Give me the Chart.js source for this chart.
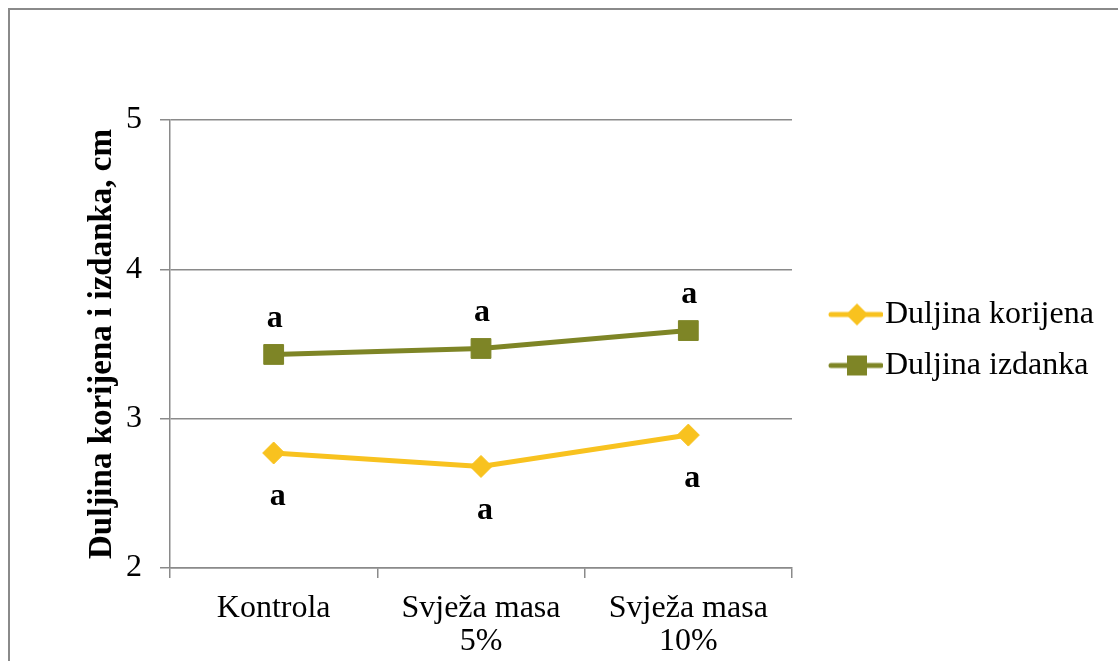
<!DOCTYPE html>
<html>
<head>
<meta charset="utf-8">
<script src="https://cdn.jsdelivr.net/npm/chart.js@4.4.0/dist/chart.umd.min.js"></script>
<style>
    html, body { margin: 0; padding: 0; background: #fff; overflow: hidden; }
    #frame { position: absolute; left: 8px; top: 8px; width: 1200px; height: 800px; border: 2px solid #8a8a8a; }
    #wrap { position: absolute; left: 0; top: 0; width: 1118px; height: 661px; }
</style>
</head>
<body>
<div id="frame"></div>
<div id="wrap"><canvas id="lengthChart"></canvas></div>
<script>
// Chart data
const categories = ['Kontrola', ['Svježa masa', '5%'], ['Svježa masa', '10%']];
const seriesNames = ['Duljina korijena', 'Duljina izdanka'];
const rootLength = [2.77, 2.68, 2.89];   // Duljina korijena
const shootLength = [3.43, 3.47, 3.59];  // Duljina izdanka
const rootLetters = ['a', 'a', 'a'];
const shootLetters = ['a', 'a', 'a'];
const yMin = 2;
const yMax = 5;
const yStep = 1;

const yellow = '#F8C21F';
const olive = '#7E8526';
const axisGray = '#8a8a8a';
const FONT = '"Liberation Serif", "Times New Roman", serif';
const fontSize = 32;

// legend icon: line with marker in the middle
function legendIcon(color, shape) {
    const c = document.createElement('canvas');
    c.width = 86;
    c.height = 30;
    const g = c.getContext('2d');
    g.strokeStyle = color;
    g.fillStyle = color;
    g.lineWidth = 5;
    g.lineCap = 'round';
    g.beginPath();
    g.moveTo(34, 15);
    g.lineTo(84, 15);
    g.stroke();
    g.beginPath();
    if (shape === 'diamond') {
        g.moveTo(49, 15); g.lineTo(60, 4); g.lineTo(71, 15); g.lineTo(60, 26);
    } else {
        g.rect(50, 5, 20, 20);
    }
    g.closePath();
    g.fill();
    return c;
}
const legendIcons = [legendIcon(yellow, 'diamond'), legendIcon(olive, 'square')];

// make the legend width land the plot edge at the right place
const measure = document.createElement('canvas').getContext('2d');
measure.font = fontSize + 'px ' + FONT;
const legendTextW = Math.max(...seriesNames.map(n => measure.measureText(n).width));
const legendPad = 19;
const iconBox = 58;
const legendW = legendPad + iconBox + fontSize / 2 + legendTextW + 10;
const padRight = Math.max(0, 1118 - 792 - legendW);

// significance letters above / below the points
const letterPlugin = {
    id: 'letters',
    afterLayout(chart) {
        // legend sits a little above the plot centre in the original
        chart.legend.top -= 4;
        chart.legend.bottom -= 4;
    },
    afterDatasetsDraw(chart) {
        const ctx = chart.ctx;
        ctx.save();
        ctx.font = 'bold ' + fontSize + 'px ' + FONT;
        ctx.fillStyle = '#000';
        ctx.textAlign = 'center';
        ctx.textBaseline = 'middle';
        chart.getDatasetMeta(1).data.forEach((pt, i) => ctx.fillText(shootLetters[i], pt.x + 1, pt.y - 36));
        chart.getDatasetMeta(0).data.forEach((pt, i) => ctx.fillText(rootLetters[i], pt.x + 4, pt.y + 44));
        ctx.restore();
    }
};

const ctx = document.getElementById('lengthChart').getContext('2d');
new Chart(ctx, {
    type: 'line',
    data: {
        labels: categories,
        datasets: [{
            label: seriesNames[0],
            data: rootLength,
            borderColor: yellow,
            backgroundColor: yellow,
            borderWidth: 5,
            pointStyle: 'rectRot',
            pointRadius: 11,
            pointHoverRadius: 11,
            pointBorderWidth: 1,
            tension: 0
        }, {
            label: seriesNames[1],
            data: shootLength,
            borderColor: olive,
            backgroundColor: olive,
            borderWidth: 5,
            pointStyle: 'rect',
            pointRadius: 14,
            pointHoverRadius: 14,
            pointBorderWidth: 1,
            tension: 0
        }]
    },
    options: {
        responsive: true,
        maintainAspectRatio: false,
        animation: false,
        layout: {
            padding: { left: 60, top: 120, right: padRight, bottom: 0 }
        },
        plugins: {
            tooltip: { enabled: false },
            legend: {
                display: true,
                position: 'right',
                fullSize: false,
                maxWidth: 400,
                labels: {
                    usePointStyle: true,
                    pointStyleWidth: iconBox,
                    padding: legendPad,
                    color: '#000',
                    font: { family: FONT, size: fontSize },
                    generateLabels: function (chart) {
                        const items = Chart.defaults.plugins.legend.labels.generateLabels(chart);
                        items.forEach((item, i) => { item.pointStyle = legendIcons[i]; });
                        return items;
                    }
                }
            }
        },
        scales: {
            x: {
                offset: true,
                grid: {
                    offset: true,
                    drawOnChartArea: false,
                    drawTicks: true,
                    tickLength: 10,
                    color: axisGray,
                    lineWidth: 1.5
                },
                border: { color: axisGray, width: 1.5 },
                ticks: {
                    color: '#000',
                    font: { family: FONT, size: fontSize, lineHeight: '33px' },
                    padding: 14,
                    maxRotation: 0,
                    autoSkip: false
                },
                afterFit: function (scale) { scale.height = 93; }
            },
            y: {
                min: yMin,
                max: yMax,
                grid: {
                    color: axisGray,
                    lineWidth: 1.5,
                    tickLength: 10
                },
                border: { color: axisGray, width: 1.5 },
                ticks: {
                    stepSize: yStep,
                    color: '#000',
                    font: { family: FONT, size: fontSize },
                    padding: 18
                },
                title: {
                    display: true,
                    text: 'Duljina korijena i izdanka, cm',
                    color: '#000',
                    font: { family: FONT, size: 33, weight: 'bold' },
                    padding: { top: 23, bottom: 0 }
                },
                afterFit: function (scale) { scale.width = 110; }
            }
        }
    },
    plugins: [letterPlugin]
});
</script>
</body>
</html>
